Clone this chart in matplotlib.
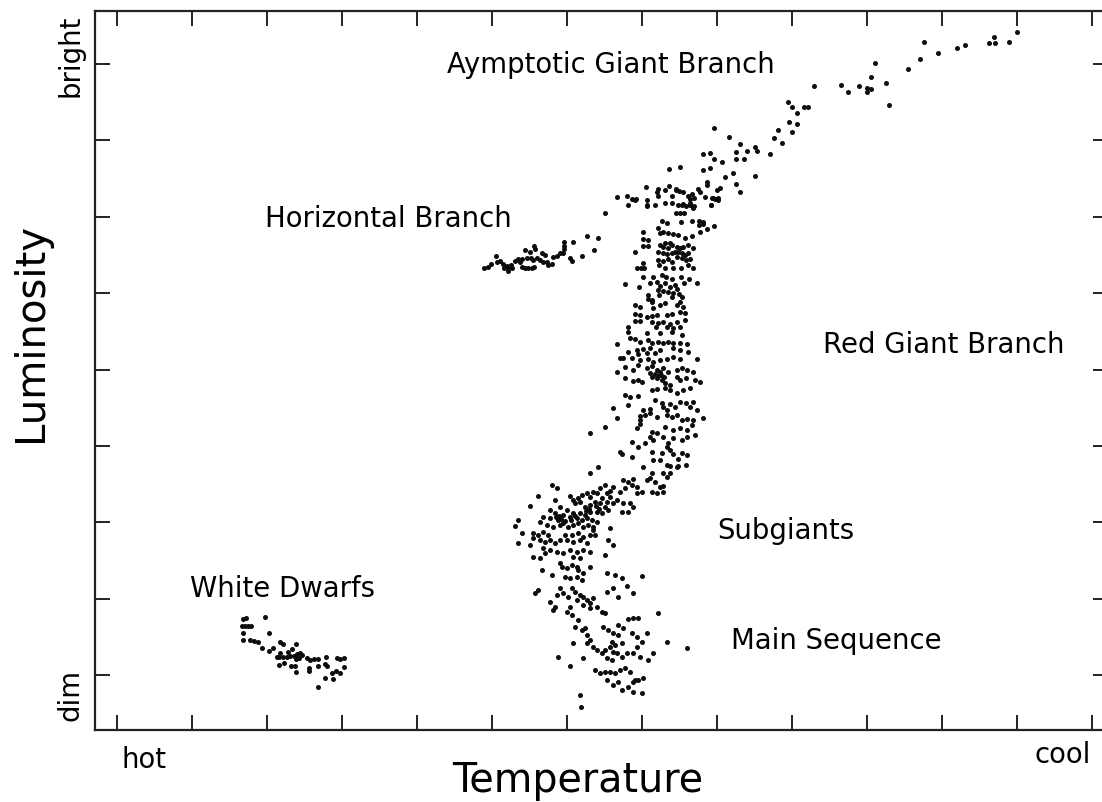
import matplotlib.pyplot as plt
import numpy as np

# star positions: (colour column, magnitude row), arbitrary units
# colour grows from hot to cool, magnitude grows from bright to dim

white_dwarfs = [
    (243, 619), (246, 618), (265, 617), (242, 626), (245, 626), (248, 626), (251, 626),
    (243, 633), (269, 633), (243, 640), (250, 640), (254, 641), (258, 642), (262, 648),
    (269, 651), (273, 648), (280, 642), (283, 644), (296, 644), (292, 649), (288, 652),
    (280, 653), (277, 657), (279, 657), (283, 657), (287, 657), (290, 656), (294, 656),
    (297, 654), (300, 653), (302, 655), (299, 658), (296, 659), (307, 658), (310, 660),
    (314, 659), (318, 659), (326, 657), (337, 658), (340, 659), (344, 658), (279, 665),
    (284, 663), (291, 666), (295, 666), (296, 672), (309, 668), (309, 671), (318, 666),
    (325, 664), (327, 666), (344, 667), (332, 673), (336, 671), (340, 673), (325, 678),
    (333, 679), (318, 687),
]

horizontal_branch = [
    (484, 268), (488, 267), (491, 264), (496, 256), (497, 262), (500, 261), (503, 264),
    (504, 268), (507, 266), (508, 268), (511, 265), (512, 268), (508, 271), (515, 261),
    (518, 259), (520, 262), (522, 267), (525, 268), (528, 268), (532, 268), (534, 267),
    (525, 250), (530, 252), (534, 246), (535, 249), (522, 259), (527, 258), (531, 258),
    (533, 260), (537, 258), (540, 260), (542, 253), (543, 262), (547, 262), (548, 265),
    (552, 264), (553, 257), (557, 256), (545, 255), (560, 253), (563, 253), (564, 246),
    (564, 242), (564, 249), (570, 258), (572, 261), (573, 242), (582, 256), (587, 236),
    (598, 238), (594, 250), (605, 213),
]

asymptotic_branch = [
    (1017, 32), (1009, 42), (994, 37), (989, 43), (995, 43), (965, 45), (957, 48),
    (938, 53), (924, 42), (920, 59), (908, 69), (875, 63), (871, 77), (886, 83),
    (889, 105), (867, 88), (871, 89), (867, 92), (859, 86), (848, 92), (841, 85),
    (814, 86), (804, 107), (808, 107), (788, 102), (792, 107), (797, 113), (789, 122),
    (797, 124), (792, 132), (778, 130), (774, 138), (782, 143), (770, 154), (755, 147),
    (757, 151), (755, 176), (747, 151), (744, 159), (740, 144), (736, 152), (736, 159),
    (729, 137), (733, 173), (736, 184), (740, 192), (725, 177), (722, 162), (714, 128),
    (714, 159), (710, 153), (710, 168), (703, 154), (703, 170), (720, 188), (717, 190),
    (713, 198), (718, 198), (711, 205), (707, 182), (707, 185), (705, 197), (700, 192),
    (669, 169), (680, 167), (646, 187), (669, 186), (658, 189), (676, 189), (698, 189),
    (617, 197), (627, 196), (632, 199), (636, 199), (647, 200), (628, 205), (647, 205),
    (655, 205), (665, 203), (657, 192), (658, 196), (665, 190), (672, 196), (676, 190),
    (679, 191), (683, 192), (688, 196), (692, 194), (690, 199), (694, 198), (712, 198),
    (715, 199), (718, 200), (672, 203), (678, 205), (683, 204), (690, 205), (693, 208),
    (694, 206), (676, 213), (680, 213), (684, 213),
]

red_giant_branch = [
    (635, 200), (647, 206), (682, 205), (686, 206), (690, 203), (693, 207), (711, 205),
    (662, 221), (667, 223), (681, 222), (692, 221), (699, 221), (703, 222), (699, 225),
    (703, 224), (714, 226), (707, 229), (700, 232),
    (643, 232), (658, 228), (660, 233), (663, 232), (668, 233), (673, 234), (678, 235),
    (692, 236), (685, 238), (643, 239), (648, 240), (643, 246), (648, 246),
    (660, 245), (665, 243), (670, 243), (663, 247), (668, 248), (672, 245), (677, 247),
    (680, 248), (683, 247), (688, 245), (693, 248), (635, 252),
    (658, 252), (663, 253), (667, 254), (672, 253), (675, 252), (678, 252), (682, 253),
    (685, 255), (688, 253), (677, 257), (682, 258), (686, 260), (690, 259),
    (658, 260), (663, 261), (668, 259), (672, 262), (659, 265), (688, 265), (693, 268),
    (643, 263), (637, 268), (641, 268), (644, 268), (665, 268), (673, 268), (681, 268),
    (643, 277), (653, 277), (662, 275), (666, 277), (672, 279), (681, 277), (689, 279),
    (697, 283), (625, 284), (639, 287), (650, 283), (657, 282), (660, 286), (665, 283),
    (670, 287), (675, 285), (677, 289), (684, 283),
    (658, 290), (663, 291), (668, 292), (673, 293), (659, 295), (672, 297), (679, 294),
    (682, 297), (648, 295), (648, 299), (652, 300), (653, 308), (683, 307),
    (635, 305), (640, 307), (660, 305), (665, 303), (677, 305), (680, 302), (652, 302),
    (635, 314), (640, 315), (647, 317), (652, 316), (657, 315), (667, 315), (672, 314),
    (680, 312), (685, 313),
    (635, 321), (640, 321), (652, 322), (658, 323), (663, 322), (670, 324), (677, 322),
    (685, 320), (628, 327), (656, 327), (667, 327), (673, 328), (680, 327),
    (628, 332), (647, 333), (660, 333), (672, 332), (682, 335),
    (617, 344), (630, 338), (635, 339), (640, 342), (648, 340), (652, 343), (658, 342),
    (663, 343), (668, 342), (673, 343), (680, 343), (687, 344),
    (628, 352), (637, 350), (643, 349), (650, 348), (638, 354), (647, 353), (655, 353),
    (660, 350), (673, 348), (680, 350), (688, 352),
    (620, 358), (623, 358), (632, 358), (640, 360), (648, 359), (653, 362), (660, 360),
    (667, 359), (673, 357), (680, 359), (697, 359),
    (617, 372), (625, 367), (633, 370), (638, 365), (647, 368), (652, 366), (657, 370),
    (660, 372), (663, 368), (668, 372), (677, 370), (682, 368), (687, 370), (693, 372),
    (655, 374), (658, 376), (661, 375), (650, 373), (664, 377),
    (625, 378), (633, 381), (638, 380), (642, 382), (652, 377), (657, 378), (662, 380),
    (665, 383), (670, 385), (677, 377), (680, 380), (686, 378), (695, 380), (700, 382),
    (625, 395), (630, 397), (638, 396), (652, 390), (657, 389), (665, 388), (670, 390),
    (677, 393), (683, 390), (690, 388),
    (613, 408), (617, 418), (628, 405), (643, 410), (650, 409), (655, 400), (662, 403),
    (663, 407), (667, 410), (670, 404), (675, 407), (680, 402), (686, 403), (690, 407),
    (693, 402), (697, 410), (703, 418),
    (605, 427), (640, 416), (640, 420), (640, 424), (645, 415), (650, 413), (657, 417),
    (667, 415), (672, 417), (677, 415), (682, 420), (687, 419), (693, 420), (692, 425),
    (590, 433), (637, 428), (652, 432), (657, 433), (665, 427), (673, 430), (680, 428),
    (687, 430),
    (632, 442), (638, 447), (645, 443), (650, 437), (653, 440), (663, 437), (668, 443),
    (673, 438), (682, 440), (687, 437), (695, 435),
    (620, 452), (622, 454), (632, 457), (652, 452), (662, 453), (667, 447), (670, 450),
    (673, 454), (682, 453),
    (643, 467), (653, 460), (660, 460), (667, 465), (670, 466), (678, 459), (678, 466),
    (687, 455), (686, 465), (652, 473), (650, 478), (655, 482), (663, 473), (667, 477),
    (660, 487), (647, 480), (663, 486), (652, 492), (657, 493), (663, 492), (677, 467),
    (670, 473),
]

subgiants = [
    (590, 473), (598, 467),
    (623, 480), (628, 482), (633, 479), (632, 485), (637, 487), (625, 488), (620, 492),
    (613, 487), (610, 491), (607, 493), (605, 485), (600, 488), (597, 493), (593, 492),
    (590, 497), (587, 493), (582, 495), (578, 498), (573, 500), (570, 496), (575, 503),
    (580, 502), (617, 500), (623, 503), (630, 503), (637, 493), (642, 492), (622, 512),
    (628, 512), (633, 507),
    (602, 498), (607, 502), (610, 497), (613, 503), (605, 507), (600, 503), (595, 502),
    (590, 505), (585, 507), (608, 510), (602, 513), (597, 512), (590, 512), (585, 515),
    (580, 513),
    (552, 485), (557, 488), (538, 496), (530, 506), (555, 500), (560, 507), (567, 510),
    (550, 510), (555, 513), (563, 515), (570, 517), (573, 513), (577, 518), (582, 520),
    (587, 518), (592, 520), (597, 522), (558, 520), (563, 523), (550, 518), (543, 517),
    (540, 522), (547, 525), (553, 527), (560, 525), (568, 527), (573, 525), (578, 523),
    (583, 527), (588, 525), (593, 527),
    (556, 517), (559, 516), (561, 519), (565, 521), (571, 520), (575, 516), (586, 511),
    (589, 509), (596, 506), (599, 509),
    (518, 520), (515, 526), (522, 533), (518, 543), (530, 545), (533, 533), (538, 535),
    (543, 532), (548, 535), (533, 538), (540, 540), (545, 542), (550, 540), (555, 543),
    (560, 540), (565, 535), (572, 535), (578, 533), (583, 537), (590, 535), (595, 535),
    (593, 530), (567, 540), (573, 542), (580, 540), (587, 543), (610, 528), (608, 540),
    (613, 545), (605, 555),
    (533, 557), (540, 558), (543, 548), (545, 553), (550, 550), (557, 552), (563, 553),
    (570, 550), (577, 552), (583, 550), (590, 552), (573, 557), (580, 558),
    (542, 570), (552, 575), (560, 563), (562, 567), (567, 568), (572, 565), (577, 567),
    (578, 570), (583, 573), (590, 567), (565, 577), (570, 578), (577, 577), (582, 580),
    (607, 573), (615, 575), (622, 578), (642, 576), (607, 592), (613, 588), (618, 597),
    (627, 586), (633, 593),
]

main_sequence = [
    (535, 593), (538, 590), (550, 602), (557, 595), (560, 588), (563, 593), (568, 597),
    (572, 588), (575, 592), (580, 595), (583, 597), (587, 600), (590, 603), (593, 598),
    (597, 607), (602, 612), (605, 613), (590, 608), (583, 605), (577, 600), (570, 607),
    (567, 612), (555, 607), (553, 610),
    (572, 615), (578, 620), (575, 627), (582, 630), (585, 628), (587, 635), (573, 643),
    (587, 643), (590, 640), (593, 647), (597, 650), (602, 653), (605, 650), (610, 647),
    (613, 652), (617, 653), (622, 657), (627, 653), (607, 658), (612, 660),
    (603, 627), (608, 630), (613, 633), (618, 625), (623, 628), (618, 635), (612, 642),
    (615, 645), (622, 643), (628, 619), (633, 618), (638, 618), (632, 633), (637, 637),
    (642, 642), (647, 633), (637, 647), (633, 653), (640, 657), (648, 660), (653, 653),
    (658, 613), (667, 642), (687, 648),
    (558, 657), (570, 666), (583, 658), (595, 670), (600, 673), (605, 672), (610, 672),
    (615, 673), (620, 670), (625, 668), (630, 672), (635, 680), (633, 682), (638, 680),
    (643, 678), (607, 680), (613, 685), (618, 682), (622, 690), (628, 687), (633, 692),
    (642, 693), (580, 695), (581, 707),
]

branch_labels = [
    ("Aymptotic Giant Branch", 447, 73),
    ("Horizontal Branch", 265, 227),
    ("Red Giant Branch", 823, 353),
    ("Subgiants", 717, 539),
    ("White Dwarfs", 190, 597),
    ("Main Sequence", 731, 649),
]

colour_ticks = 117.5 + 75 * np.arange(14)
magnitude_ticks = 64 + 76.4 * np.arange(9)

fig = plt.figure(figsize=(11.02, 8.02), dpi=100)
ax = fig.add_axes([95 / 1102, 72 / 802, 1013 / 1102, 719 / 802])

for stars in [white_dwarfs, horizontal_branch, asymptotic_branch,
              red_giant_branch, subgiants, main_sequence]:
    colour, magnitude = np.array(stars).T
    ax.plot(colour, magnitude, 'o', color='#0d0d0d', markersize=3.6,
            markeredgewidth=0, clip_on=False)

ax.set_xlim(95, 1108)
ax.set_ylim(730, 11)
ax.set_xticks(colour_ticks)
ax.set_yticks(magnitude_ticks)
ax.tick_params(direction='in', length=11, width=1.4, color='#222222',
               top=True, right=True, labelbottom=False, labelleft=False)
for spine in ax.spines.values():
    spine.set_linewidth(1.6)
    spine.set_color('#222222')

for text, x, y in branch_labels:
    ax.text(x, y, text, fontsize=19.8, ha='left', va='baseline')

ax.text(122, 768, "hot", fontsize=19.8, ha='left', va='baseline', clip_on=False)
ax.text(1035, 763, "cool", fontsize=19.8, ha='left', va='baseline', clip_on=False)
ax.text(452, 792, "Temperature", fontsize=28.5, ha='left', va='baseline', clip_on=False)

ax.text(79, 56, "bright", fontsize=19.8, rotation=90, rotation_mode='anchor',
        ha='center', va='baseline', clip_on=False)
ax.text(79, 695, "dim", fontsize=19.8, rotation=90, rotation_mode='anchor',
        ha='center', va='baseline', clip_on=False)
ax.text(42, 332, "Luminosity", fontsize=29, rotation=90, rotation_mode='anchor',
        ha='center', va='baseline', clip_on=False)

plt.savefig('out.png', dpi=100)
